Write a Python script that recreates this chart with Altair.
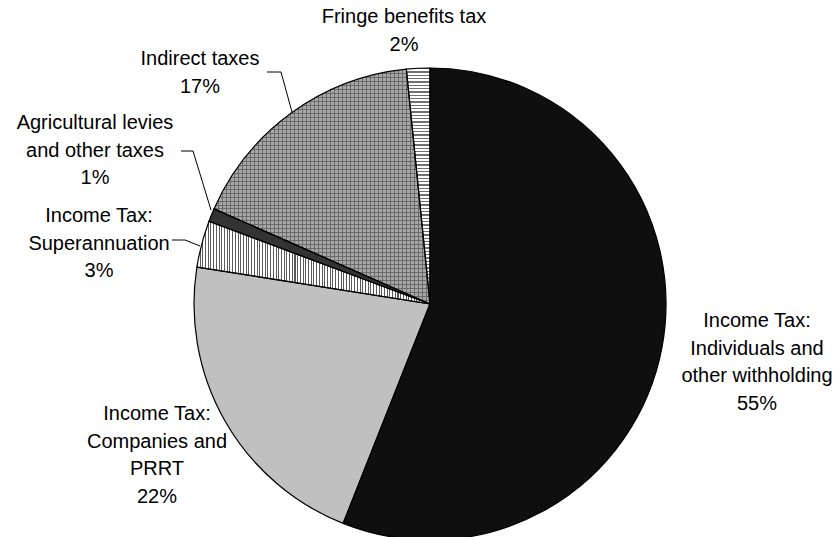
import math
import altair as alt
import pandas as pd

# ---- data ----
categories = [
    "Income Tax: Individuals and other withholding",
    "Income Tax: Companies and PRRT",
    "Income Tax: Superannuation",
    "Agricultural levies and other taxes",
    "Indirect taxes",
    "Fringe benefits tax",
]
values = [56.0, 21.5, 3.2, 0.9, 16.8, 1.6]
label_lines = [
    ["Income Tax:", "Individuals and", "other withholding", "55%"],
    ["Income Tax:", "Companies and", "PRRT", "22%"],
    ["Income Tax:", "Superannuation", "3%"],
    ["Agricultural levies", "and other taxes", "1%"],
    ["Indirect taxes", "17%"],
    ["Fringe benefits tax", "2%"],
]

df = pd.DataFrame({"category": categories, "value": values, "order": list(range(len(values)))})
lab = pd.DataFrame({"category": categories, "label": ["\n".join(l) for l in label_lines]})

# ---- layout / style ----
CX, CY, R = 430, 304, 236
FONT = "Liberation Sans"
FS = 20
LH = 27.5


def stripes(n, on, off, frac, vertical_lines=False):
    stops = []
    for i in range(n):
        a = i / n
        b = (i + frac) / n
        stops += [alt.GradientStop(color=on, offset=a), alt.GradientStop(color=on, offset=b),
                  alt.GradientStop(color=off, offset=b), alt.GradientStop(color=off, offset=(i + 1) / n)]
    if vertical_lines:
        return alt.LinearGradient(gradient="linear", stops=stops, x1=0, x2=1, y1=0, y2=0)
    return alt.LinearGradient(gradient="linear", stops=stops, x1=0, x2=0, y1=0, y2=1)


fills = {
    categories[0]: "#0f0f0f",
    categories[1]: "#c0c0c0",
    categories[2]: stripes(86, "#5a5a5a", "#ffffff", 0.38, vertical_lines=True),
    categories[3]: "#333333",
    categories[4]: "#a8a8a8",
    categories[5]: stripes(71, "#707070", "#ffffff", 0.4),
}
# dotted texture of the indirect-taxes slice: two striped overlays
overlays = {
    categories[4]: [
        stripes(54, "#6a6a6a", "transparent", 0.25, vertical_lines=True),
        stripes(59, "#6a6a6a", "transparent", 0.25),
    ]
}

base = (
    alt.Chart(df)
    .transform_window(cum="sum(value)", sort=[alt.SortField("order")], frame=[None, 0])
    .transform_calculate(start="datum.cum - datum.value")
)

theta_scale = alt.Scale(domain=[0, 100], range=[0, 2 * math.pi])
enc = dict(
    theta=alt.Theta("start:Q", scale=theta_scale),
    theta2="cum:Q",
    x=alt.value(CX),
    y=alt.value(CY),
)
arcs = []
for c in categories:
    arcs.append(
        base.transform_filter(alt.datum.category == c)
        .mark_arc(outerRadius=R, fill=fills[c], strokeWidth=0)
        .encode(**enc)
    )
    for ov in overlays.get(c, []):
        arcs.append(
            base.transform_filter(alt.datum.category == c)
            .mark_arc(outerRadius=R, fill=ov, strokeWidth=0)
            .encode(**enc)
        )
outline = base.mark_arc(outerRadius=R, fill="transparent", stroke="#000000", strokeWidth=1.2).encode(**enc)

# label anchors (centre x, first baseline)
anchors = {
    categories[0]: (757, 327),
    categories[1]: (157, 420),
    categories[2]: (99, 222),
    categories[3]: (95, 129),
    categories[4]: (200, 65),
    categories[5]: (404, 23),
}
texts = []
for c in categories:
    ax, ay = anchors[c]
    texts.append(
        alt.Chart(lab)
        .transform_filter(alt.datum.category == c)
        .mark_text(font=FONT, fontSize=FS, align="center", baseline="alphabetic",
                   lineBreak="\n", lineHeight=LH, color="#000000")
        .encode(text="label:N", x=alt.value(ax), y=alt.value(ay))
    )

# leader lines
segments = [
    (267, 72, 281, 72), (281, 72, 292, 112),
    (181, 151, 193, 151), (193, 151, 211, 210),
    (172, 240, 185, 240), (185, 240, 200, 246),
]
leaders = [
    alt.Chart(lab).transform_filter(alt.datum.category == categories[0])
    .mark_rule(color="#000000", strokeWidth=1)
    .encode(x=alt.value(x1), y=alt.value(y1), x2=alt.value(x2), y2=alt.value(y2))
    for (x1, y1, x2, y2) in segments
]

chart = (
    alt.layer(*arcs, outline, *leaders, *texts)
    .properties(width=833, height=537, autosize=alt.AutoSizeParams(type="none"), padding=0)
    .configure_view(stroke=None)
)

chart.save("out.html", embed_options={"renderer": "svg", "actions": False})
